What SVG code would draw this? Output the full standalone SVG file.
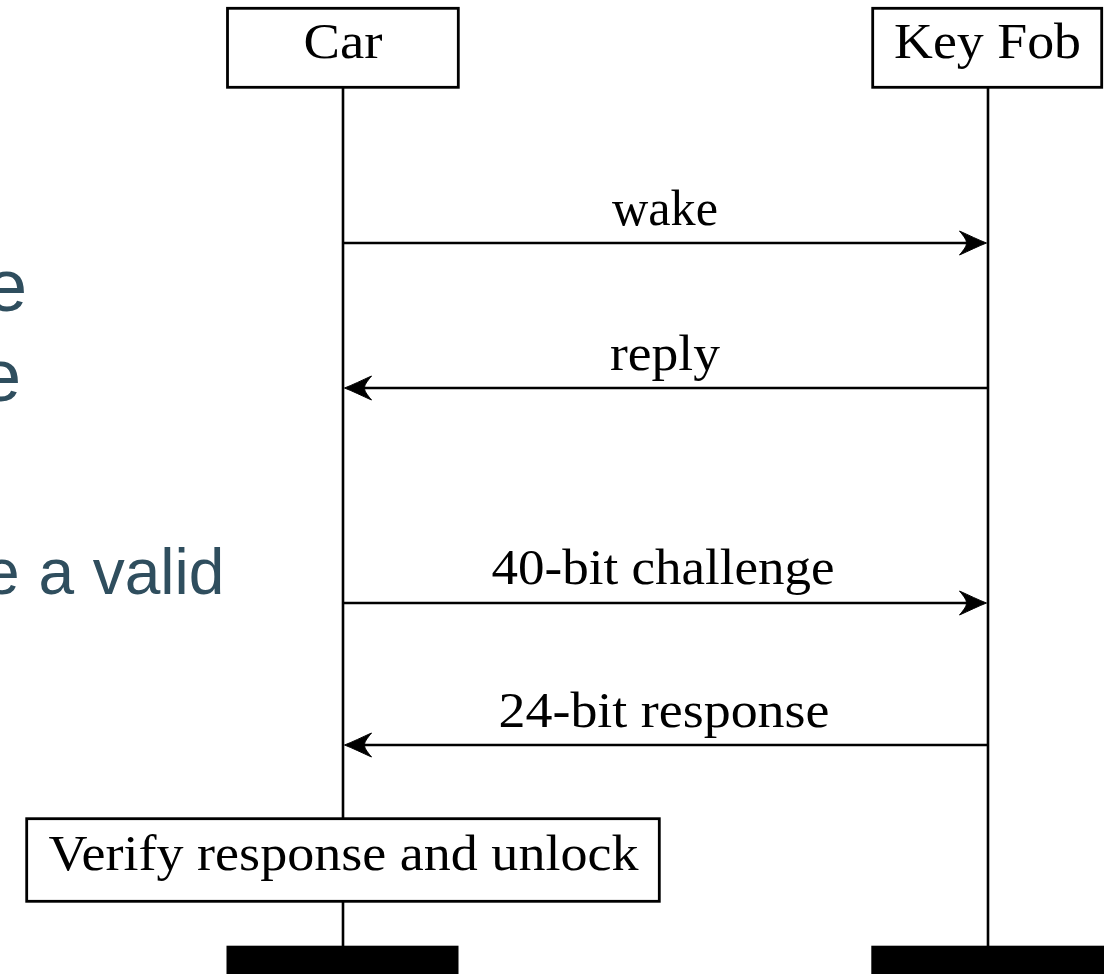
<svg xmlns="http://www.w3.org/2000/svg" width="1115" height="974" viewBox="0 0 1115 974">
  <style>
    .box { fill: #ffffff; stroke: #000000; stroke-width: 2.8; }
    .life { stroke: #000000; stroke-width: 2.6; fill: none; }
    .msg { stroke: #000000; stroke-width: 2.5; fill: none; marker-end: url(#head); }
    .lbl { font-family: "Liberation Serif", "Times New Roman", serif; font-size: 50px; fill: #000000; text-anchor: middle; }
    .slide { font-family: "Liberation Sans", Arial, sans-serif; fill: #2f4e5e; }
    .bar { fill: #000000; }
  </style>
  <defs>
    <marker id="head" viewBox="-30 -13 32 26" refX="-16" refY="0" markerWidth="32" markerHeight="26" markerUnits="userSpaceOnUse" orient="auto" overflow="visible">
      <path d="M0,0 C-8,-3 -18,-8 -27,-12 C-22,-6 -20,-3 -20,0 C-20,3 -22,6 -27,12 C-18,8 -8,3 0,0 Z" fill="#000000" stroke="#000000" stroke-width="1" stroke-linejoin="round"/>
    </marker>
  </defs>

  <rect width="1115" height="974" fill="#ffffff"/>

  <!-- slide text behind the chart, cut off at the left edge -->
  <g id="slide-text">
    <text class="slide" x="-14" y="311" font-size="74">e</text>
    <text class="slide" x="-20" y="401" font-size="74">e</text>
    <text class="slide" x="-16" y="594" font-size="64" word-spacing="1">e a valid</text>
  </g>

  <!-- lifelines -->
  <g id="lifelines">
    <line class="life" x1="343" y1="87" x2="343" y2="946"/>
    <line class="life" x1="988" y1="87" x2="988" y2="946"/>
  </g>

  <!-- messages -->
  <g id="connectors">
    <path class="msg" d="M343,243 H970.5"/>
    <path class="msg" d="M988,388 H360.5"/>
    <path class="msg" d="M343,603 H970.5"/>
    <path class="msg" d="M988,745 H360.5"/>
    <text class="lbl" x="665" y="225" textLength="106" lengthAdjust="spacingAndGlyphs">wake</text>
    <text class="lbl" x="665" y="370" textLength="110" lengthAdjust="spacingAndGlyphs">reply</text>
    <text class="lbl" x="663" y="584" textLength="343" lengthAdjust="spacingAndGlyphs">40-bit challenge</text>
    <text class="lbl" x="664" y="727" textLength="331" lengthAdjust="spacingAndGlyphs">24-bit response</text>
  </g>

  <!-- participants -->
  <g id="car">
    <rect class="box" x="227.5" y="8.3" width="230.8" height="79"/>
    <text class="lbl" x="343" y="58" textLength="79" lengthAdjust="spacingAndGlyphs">Car</text>
    <rect class="bar" x="226.5" y="945.7" width="232" height="30"/>
  </g>

  <g id="keyfob">
    <rect class="box" x="872.7" y="8.3" width="229" height="79"/>
    <text class="lbl" x="987.5" y="58" textLength="187" lengthAdjust="spacingAndGlyphs">Key Fob</text>
    <rect class="bar" x="871.3" y="945.7" width="232.7" height="30"/>
  </g>

  <!-- action on the car lifeline -->
  <g id="verify">
    <rect class="box" x="26.7" y="818.7" width="632.6" height="82.6"/>
    <text class="lbl" x="343.5" y="870" textLength="590" lengthAdjust="spacingAndGlyphs">Verify response and unlock</text>
  </g>
</svg>
